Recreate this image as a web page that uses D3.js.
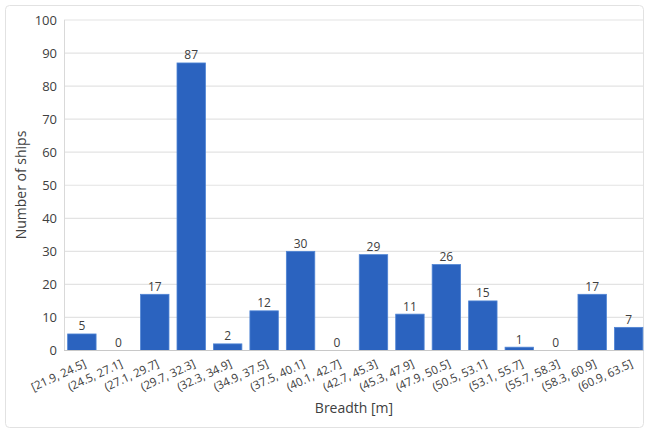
<!DOCTYPE html>
<html><head><meta charset="utf-8">
<script src="https://cdn.jsdelivr.net/npm/d3@7"></script>
<style>body{margin:0;background:#fff;}svg{display:block;}</style>
</head><body>
<script>
const categories = ["[21.9, 24.5]","(24.5, 27.1]","(27.1, 29.7]","(29.7, 32.3]","(32.3, 34.9]","(34.9, 37.5]","(37.5, 40.1]","(40.1, 42.7]","(42.7, 45.3]","(45.3, 47.9]","(47.9, 50.5]","(50.5, 53.1]","(53.1, 55.7]","(55.7, 58.3]","(58.3, 60.9]","(60.9, 63.5]"];
const counts = [5,0,17,87,2,12,30,0,29,11,26,15,1,0,17,7];
const yTicks = [0,10,20,30,40,50,60,70,80,90,100];

const W=648,H=431;
const svg=d3.select("body").append("svg").attr("width",W).attr("height",H);
const font="'Open Sans', 'Liberation Sans', sans-serif";
svg.append("rect").attr("x",5.5).attr("y",5.5).attr("width",638).attr("height",422).attr("rx",4)
  .attr("fill","#fff").attr("stroke","#e2e2e2");

const x=d3.scaleBand().domain(categories).range([64,646.5]).paddingInner(0.22).paddingOuter(0.1);
const y=d3.scaleLinear().domain([0,100]).range([350.5,20]);

// gridlines
svg.append("g").selectAll("line").data(yTicks.filter(d=>d>0)).join("line")
  .attr("x1",64).attr("x2",643).attr("y1",d=>y(d)).attr("y2",d=>y(d))
  .attr("stroke","#e3e3e3").attr("stroke-width",1.2);
// left axis line
svg.append("line").attr("x1",64.5).attr("x2",64.5).attr("y1",y(100)).attr("y2",y(0)).attr("stroke","#d9d9d9");

// y axis labels
const yAxis=svg.append("g").attr("transform","translate(64,0)").call(d3.axisLeft(y).tickValues(yTicks).tickSize(0).tickPadding(7));
yAxis.select(".domain").remove();
yAxis.selectAll("text").attr("font-family",font).attr("font-size",13).attr("fill","#404040");

// bars
svg.append("g").selectAll("rect").data(counts).join("rect")
  .attr("x",(d,i)=>x(categories[i])).attr("width",x.bandwidth())
  .attr("y",d=>y(d)).attr("height",d=>y(0)-y(d))
  .attr("fill","#2b63bf").attr("stroke","#4f84d4").attr("stroke-width",0.8);

// baseline
svg.append("line").attr("x1",64).attr("x2",643).attr("y1",y(0)).attr("y2",y(0)).attr("stroke","#c8c8c8").attr("stroke-width",1.2);

// value labels
svg.append("g").selectAll("text").data(counts).join("text")
  .attr("x",(d,i)=>x(categories[i])+x.bandwidth()/2).attr("y",d=>y(d)-3.5)
  .attr("text-anchor","middle").attr("font-family",font).attr("font-size",12).attr("fill","#404040")
  .text(d=>d);

// x axis labels
const xAxis=svg.append("g").attr("transform",`translate(0,${y(0)})`).call(d3.axisBottom(x).tickSize(0).tickPadding(0));
xAxis.select(".domain").remove();
xAxis.selectAll("text").attr("font-family",font).attr("font-size",11.5).attr("fill","#404040")
  .attr("text-anchor","end").attr("dy",0)
  .attr("transform","translate(5,16) rotate(-25)");

// titles
svg.append("text").attr("x",354).attr("y",413).attr("text-anchor","middle")
  .attr("font-family",font).attr("font-size",14).attr("fill","#404040").text("Breadth [m]");
svg.append("text").attr("transform","translate(26,185) rotate(-90)").attr("text-anchor","middle")
  .attr("font-family",font).attr("font-size",14).attr("fill","#404040").text("Number of ships");
</script>
</body></html>
